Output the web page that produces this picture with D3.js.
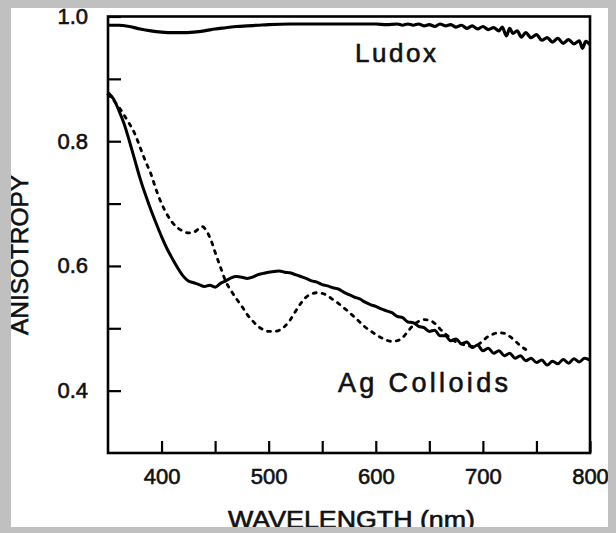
<!DOCTYPE html>
<html>
<head>
<meta charset="utf-8">
<script src="https://cdn.jsdelivr.net/npm/d3@7"></script>
<style>
  body { margin: 0; background: #c0c0c0; }
  svg { display: block; }
  text { font-family: "Liberation Sans", Arial, sans-serif; fill: #111; stroke: #111; stroke-width: 0.6px; }
</style>
</head>
<body>
<svg width="616" height="533"></svg>
<script>
// Ludox (solid, top)
var ludoxNm = [350,360,370,380,390,400,410,420,430,440,450,460,470,480,490,500,520,540,560,580,600,610,620,625,630,635,640,645,650,655,660,665,670,675,680,685,690,695,700,705,710,715,718,722,725,728,732,736,740,745,750,755,760,765,770,775,780,785,790,793,796,800];
var ludoxVal = [.986,.986,.984,.980,.977,.975,.974,.974,.975,.977,.980,.982,.984,.985,.986,.987,.988,.988,.988,.988,.988,.987,.988,.986,.988,.986,.988,.985,.987,.984,.988,.985,.987,.983,.986,.981,.985,.980,.984,.979,.982,.977,.983,.969,.981,.973,.977,.967,.974,.966,.971,.962,.966,.959,.965,.957,.963,.956,.961,.949,.960,.955];

// Ag colloids (solid)
var agNm = [350,355,360,365,370,375,380,385,390,395,400,405,410,415,420,425,430,435,440,445,450,455,460,465,470,475,480,485,490,495,500,505,510,515,520,525,530,535,540,545,550,555,560,565,570,575,580,585,590,595,600,605,610,615,620,625,630,635,640,645,650,655,660,665,670,675,680,685,690,695,700,705,710,715,720,725,730,735,740,745,750,755,760,765,770,775,780,785,790,795,800];
var agVal = [.878,.868,.850,.828,.800,.770,.740,.714,.690,.668,.647,.628,.612,.597,.584,.576,.573,.570,.567,.569,.566,.572,.576,.581,.583,.582,.580,.582,.586,.588,.590,.591,.592,.590,.589,.586,.583,.580,.576,.574,.570,.568,.565,.563,.558,.554,.550,.547,.542,.538,.535,.531,.528,.525,.519,.517,.510,.509,.503,.501,.495,.497,.488,.488,.480,.483,.475,.478,.469,.473,.464,.468,.460,.464,.456,.460,.452,.456,.448,.452,.445,.449,.441,.447,.443,.450,.444,.451,.446,.452,.449];

// Ag colloids (dotted)
var agDotNm = [350,355,360,365,370,375,380,385,390,395,400,405,410,415,420,425,430,435,438,442,446,450,455,460,465,470,475,480,485,490,495,500,505,510,515,520,525,530,535,540,545,550,555,560,565,570,575,580,585,590,595,600,605,610,615,620,625,630,635,640,645,650,655,660,665,670,675,680,685,690,695,700,705,710,715,720,725,730,735,740];
var agDotVal = [.875,.866,.855,.842,.828,.812,.790,.768,.748,.722,.700,.683,.670,.661,.656,.653,.654,.660,.663,.656,.642,.622,.598,.575,.560,.547,.535,.522,.512,.503,.498,.495,.495,.497,.503,.513,.527,.540,.550,.555,.557,.556,.552,.546,.540,.533,.526,.518,.510,.502,.496,.490,.485,.481,.479,.480,.485,.495,.505,.511,.514,.513,.508,.499,.491,.484,.478,.475,.472,.471,.473,.480,.487,.491,.493,.492,.487,.480,.472,.466];

var xTicks = [400,450,500,550,600,650,700,750,800];
var yTicks = [0.4,0.5,0.6,0.7,0.8,0.9,1.0];

var svg = d3.select("svg");

// white sheet inside the grey frame
svg.append("rect").attr("x", 11).attr("y", 8).attr("width", 597).attr("height", 519).attr("fill", "#fff");

var x = d3.scaleLinear().domain([350, 800]).range([108, 590]);
var y = d3.scaleLinear().domain([0.3, 1.0]).range([453, 16.5]);

var line = d3.line()
  .x(function(d) { return x(d[0]); })
  .y(function(d) { return y(d[1]); })
  .curve(d3.curveMonotoneX);

function pairs(a, b) { return a.map(function(v, i) { return [v, b[i]]; }); }

svg.append("path").datum(pairs(ludoxNm, ludoxVal))
  .attr("d", line).attr("fill", "none").attr("stroke", "#000").attr("stroke-width", 3.2);

svg.append("path").datum(pairs(agNm, agVal))
  .attr("d", line).attr("fill", "none").attr("stroke", "#000").attr("stroke-width", 3);

svg.append("path").datum(pairs(agDotNm, agDotVal))
  .attr("d", line).attr("fill", "none").attr("stroke", "#000").attr("stroke-width", 2.8)
  .attr("stroke-dasharray", "3,6").attr("stroke-linecap", "round");

// axes
var xAxis = d3.axisBottom(x).tickValues(xTicks).tickSize(-12).tickPadding(15)
  .tickFormat(function(d) { return d % 100 === 0 ? d : ""; });
var gx = svg.append("g").attr("transform", "translate(0," + y(0.3) + ")").call(xAxis);
gx.select(".domain").remove();
gx.selectAll("line").attr("stroke", "#000").attr("stroke-width", 2.2);
gx.selectAll("text").attr("font-size", 22).attr("fill", "#111");

var yAxis = d3.axisLeft(y).tickValues(yTicks).tickSize(-13).tickPadding(20)
  .tickFormat(function(d) { return [0.4, 0.6, 0.8, 1.0].indexOf(+d.toFixed(1)) >= 0 ? d3.format(".1f")(d) : ""; });
var gy = svg.append("g").attr("transform", "translate(" + x(350) + ",0)").call(yAxis);
gy.select(".domain").remove();
gy.selectAll("line").attr("stroke", "#000").attr("stroke-width", 2.2);
gy.selectAll("text").attr("font-size", 22).attr("fill", "#111");

// frame
svg.append("rect")
  .attr("x", x(350)).attr("y", y(1.0))
  .attr("width", x(800) - x(350)).attr("height", y(0.3) - y(1.0))
  .attr("fill", "none").attr("stroke", "#000").attr("stroke-width", 2.6);

// labels
svg.append("text").attr("x", 355).attr("y", 62).attr("font-size", 26)
  .attr("textLength", 81).attr("lengthAdjust", "spacing").text("Ludox");
svg.append("text").attr("x", 338).attr("y", 392).attr("font-size", 27)
  .attr("textLength", 170).attr("lengthAdjust", "spacing").text("Ag Colloids");

svg.append("text").attr("x", 228).attr("y", 528).attr("font-size", 23)
  .attr("textLength", 247).attr("lengthAdjust", "spacingAndGlyphs").text("WAVELENGTH (nm)");

svg.append("text").attr("transform", "translate(28,335) rotate(-90)").attr("font-size", 23)
  .attr("textLength", 160).attr("lengthAdjust", "spacingAndGlyphs").text("ANISOTROPY");

// grey frame drawn over the edges
var frame = "#c0c0c0";
svg.append("rect").attr("x", 0).attr("y", 527).attr("width", 616).attr("height", 6).attr("fill", frame);
svg.append("rect").attr("x", 0).attr("y", 0).attr("width", 11).attr("height", 533).attr("fill", frame);
svg.append("rect").attr("x", 608).attr("y", 0).attr("width", 8).attr("height", 533).attr("fill", frame);
svg.append("rect").attr("x", 0).attr("y", 0).attr("width", 616).attr("height", 8).attr("fill", frame);
</script>
</body>
</html>
